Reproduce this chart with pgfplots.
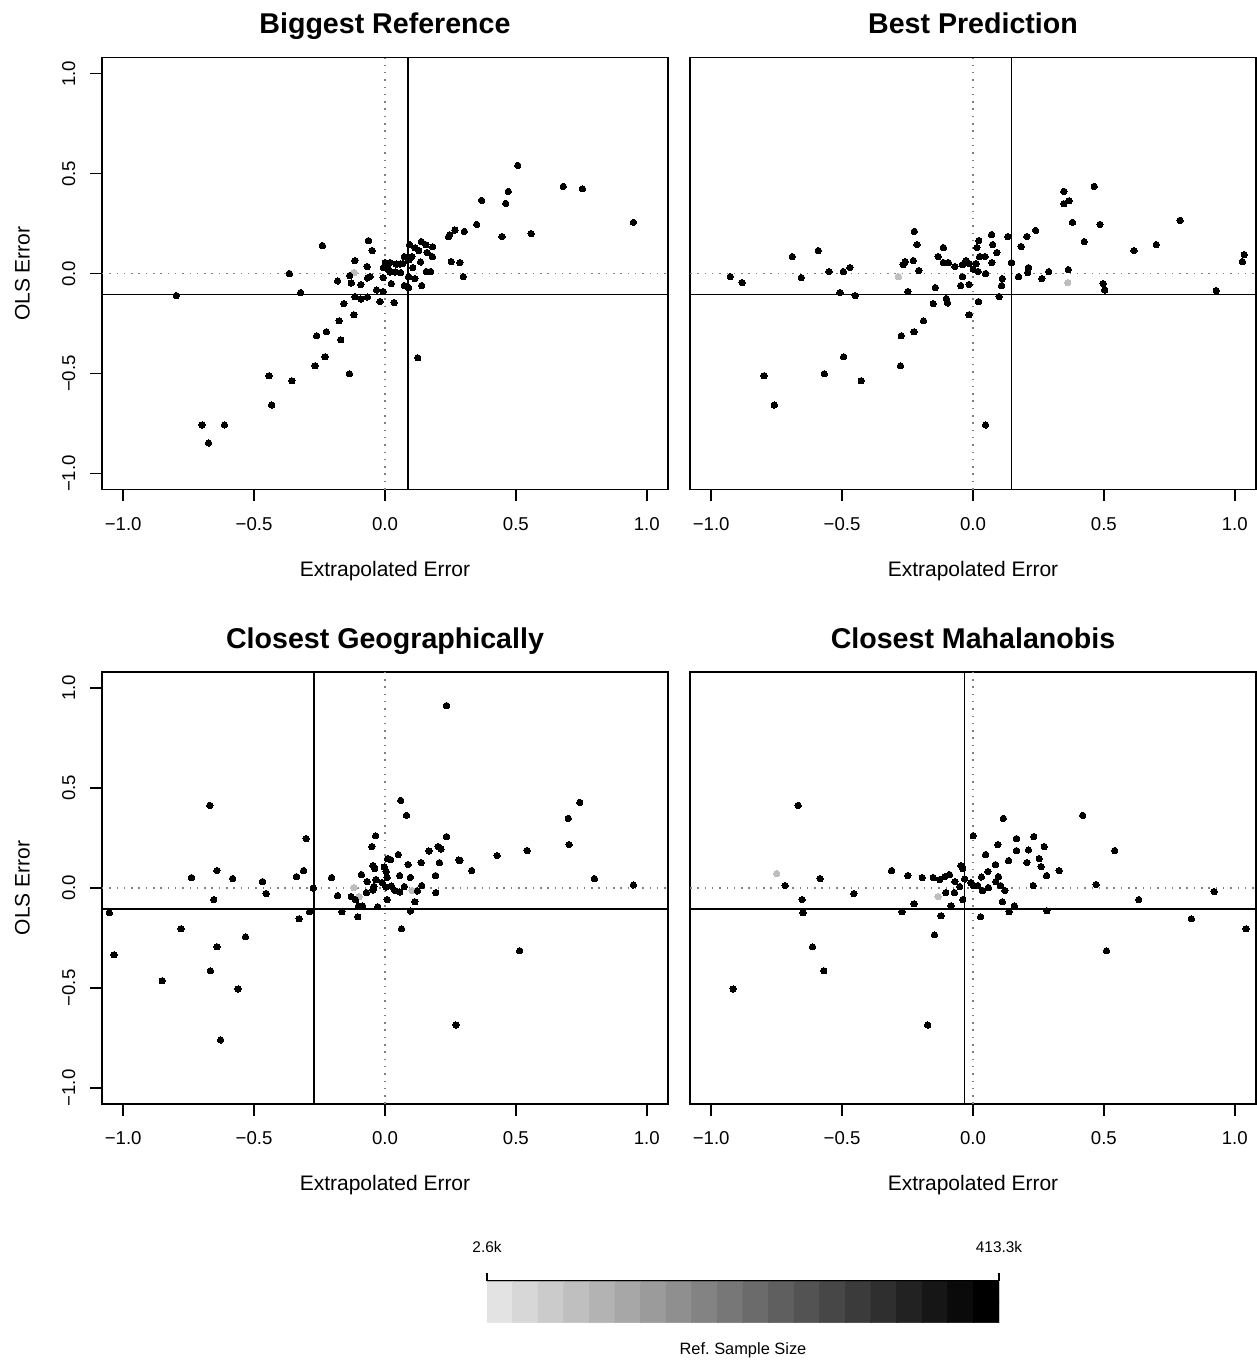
\documentclass[border=0pt]{standalone}
\usepackage{fontspec}
\setmainfont{Liberation Sans}
\usepackage{pgfplots}
\usepackage{pgfplotstable}
\pgfplotsset{compat=1.18}
\definecolor{lightpt}{HTML}{BEBEBE}
\definecolor{refline}{HTML}{808080}

% panel 1: Biggest Reference
\pgfplotstableread{
x y
0.507 0.541
0.681 0.436
0.754 0.424
0.471 0.411
0.369 0.366
0.461 0.351
0.949 0.256
0.350 0.246
0.303 0.211
0.267 0.217
0.247 0.194
0.243 0.184
0.447 0.185
0.558 0.200
-0.239 0.140
-0.063 0.165
-0.049 0.115
0.094 0.145
0.139 0.160
0.115 0.129
0.129 0.115
0.156 0.144
0.182 0.134
0.161 0.105
0.181 0.085
0.074 0.085
0.103 0.085
0.092 0.069
0.136 0.058
0.253 0.060
0.286 0.055
0.106 0.030
0.158 0.010
0.174 0.010
0.299 -0.015
0.114 -0.025
0.140 -0.060
0.090 -0.015
0.074 -0.060
0.090 -0.070
0.024 -0.050
-0.007 -0.020
0.001 0.055
0.019 0.055
0.043 0.047
0.058 0.048
0.068 0.050
-0.006 0.030
0.013 0.022
0.019 0.008
0.039 0.008
0.060 0.005
-0.115 0.065
-0.068 0.035
-0.135 -0.010
-0.067 -0.022
-0.057 -0.015
-0.129 -0.047
-0.092 -0.055
-0.181 -0.037
-0.365 0.000
-0.322 -0.095
-0.797 -0.110
-0.032 -0.082
-0.007 -0.090
-0.115 -0.115
-0.092 -0.127
-0.067 -0.117
-0.019 -0.140
0.035 -0.145
-0.157 -0.150
-0.119 -0.206
-0.175 -0.236
-0.224 -0.291
-0.261 -0.311
-0.169 -0.331
0.125 -0.421
-0.229 -0.416
-0.267 -0.461
-0.136 -0.501
-0.443 -0.511
-0.356 -0.536
-0.433 -0.657
-0.699 -0.757
-0.613 -0.757
-0.674 -0.847
}\bigblack
\pgfplotstableread{
x y
-0.118 0.005
}\biggray

% panel 2: Best Prediction
\pgfplotstableread{
x y
0.463 0.436
0.347 0.411
0.367 0.364
0.347 0.349
0.380 0.256
0.485 0.246
0.791 0.266
0.425 0.160
0.615 0.115
0.700 0.145
1.036 0.095
1.029 0.060
0.239 0.216
0.206 0.185
0.133 0.185
0.184 0.135
0.147 0.055
0.212 0.030
0.209 0.005
0.289 0.010
0.263 -0.025
0.174 -0.015
0.364 0.020
0.497 -0.050
0.503 -0.082
0.929 -0.085
0.112 -0.025
0.109 -0.060
0.100 -0.115
0.071 0.195
0.075 0.145
0.091 0.105
0.022 0.165
0.015 0.130
0.025 0.085
0.046 0.085
0.072 0.055
0.012 0.050
0.001 0.022
0.019 0.010
0.048 0.000
-0.015 0.050
-0.026 0.065
-0.040 0.045
-0.069 0.035
-0.094 0.055
-0.113 0.055
-0.113 0.130
-0.133 0.085
-0.040 -0.015
-0.047 -0.060
-0.015 -0.055
-0.144 -0.070
-0.224 0.211
-0.214 0.145
-0.228 0.065
-0.207 0.015
-0.259 0.060
-0.267 0.045
-0.249 -0.090
-0.470 0.030
-0.495 0.010
-0.550 0.010
-0.591 0.115
-0.690 0.085
-0.656 -0.020
-0.927 -0.015
-0.882 -0.045
-0.508 -0.095
-0.450 -0.110
-0.102 -0.125
-0.097 -0.147
-0.152 -0.150
0.021 -0.140
-0.015 -0.206
-0.189 -0.236
-0.225 -0.291
-0.274 -0.311
-0.494 -0.416
-0.277 -0.461
-0.568 -0.501
-0.427 -0.536
-0.798 -0.511
-0.759 -0.657
0.048 -0.757
}\bestblack
\pgfplotstableread{
x y
-0.285 -0.015
0.362 -0.045
}\bestgray

% panel 3: Closest Geographically
\pgfplotstableread{
x y
0.235 0.912
0.060 0.438
0.082 0.363
0.744 0.428
0.700 0.348
0.703 0.217
0.543 0.187
0.428 0.162
0.800 0.047
0.949 0.015
0.235 0.257
0.203 0.207
0.214 0.194
0.168 0.185
0.282 0.140
0.286 0.137
0.331 0.087
0.208 0.127
0.138 0.127
0.088 0.117
0.193 0.062
0.097 0.053
0.056 0.062
0.140 0.012
0.124 -0.015
0.194 -0.023
0.074 0.007
0.114 -0.069
0.097 -0.115
0.063 -0.204
0.271 -0.685
0.514 -0.314
-0.036 0.261
-0.050 0.207
0.051 0.167
0.010 0.147
0.021 0.142
-0.046 0.112
-0.039 0.097
-0.003 0.105
0.004 0.082
0.008 0.053
-0.035 0.042
-0.090 0.067
-0.068 0.032
-0.042 0.008
-0.011 0.027
0.003 0.005
0.024 0.010
0.038 -0.013
0.056 -0.020
-0.046 -0.010
-0.071 -0.023
0.008 -0.058
-0.028 -0.094
-0.086 -0.089
-0.101 -0.089
-0.113 -0.058
-0.129 -0.043
-0.181 -0.038
-0.204 0.052
-0.165 -0.119
-0.104 -0.144
-0.274 0.000
-0.301 0.247
-0.311 0.087
-0.338 0.057
-0.468 0.032
-0.454 -0.028
-0.582 0.047
-0.642 0.087
-0.739 0.052
-0.654 -0.058
-0.669 0.413
-0.288 -0.119
-0.328 -0.154
-1.053 -0.124
-1.035 -0.334
-0.779 -0.204
-0.642 -0.294
-0.533 -0.244
-0.667 -0.414
-0.851 -0.464
-0.561 -0.505
-0.628 -0.760
}\geoblack
\pgfplotstableread{
x y
-0.119 0.002
-0.099 -0.043
0.103 -0.012
}\geogray

% panel 4: Closest Mahalanobis
\pgfplotstableread{
x y
-0.668 0.413
0.116 0.348
0.419 0.363
0.001 0.261
0.166 0.247
0.232 0.257
0.095 0.217
0.272 0.207
0.166 0.187
0.212 0.190
0.541 0.187
0.048 0.167
0.136 0.137
0.206 0.127
0.253 0.147
0.260 0.107
0.086 0.117
-0.046 0.112
-0.039 0.097
0.057 0.082
0.032 0.055
0.097 0.057
0.087 0.032
0.281 0.062
0.329 0.087
0.230 0.012
0.470 0.017
0.921 -0.018
0.633 -0.058
0.834 -0.154
1.043 -0.204
0.510 -0.314
-0.311 0.087
-0.249 0.062
-0.194 0.052
-0.152 0.052
-0.127 0.042
-0.107 0.057
-0.090 0.067
-0.069 0.032
-0.051 0.007
-0.032 0.045
-0.008 0.027
0.001 0.012
0.018 0.012
0.036 -0.013
0.059 0.002
0.105 0.012
0.122 -0.013
0.112 -0.069
0.158 -0.089
0.138 -0.119
0.282 -0.114
0.029 -0.144
-0.104 -0.023
-0.071 -0.023
-0.039 -0.058
-0.084 -0.089
-0.122 -0.139
-0.147 -0.234
-0.225 -0.079
-0.271 -0.119
-0.173 -0.685
-0.455 -0.028
-0.584 0.047
-0.718 0.012
-0.653 -0.058
-0.649 -0.124
-0.613 -0.294
-0.570 -0.414
-0.916 -0.505
}\mahblack
\pgfplotstableread{
x y
-0.750 0.072
-0.133 -0.043
}\mahgray

% colour key: 20 grey steps
\pgfplotstableread{
x y c
0.5 0.244 0
1.5 0.244 1
2.5 0.244 2
3.5 0.244 3
4.5 0.244 4
5.5 0.244 5
6.5 0.244 6
7.5 0.244 7
8.5 0.244 8
9.5 0.244 9
10.5 0.244 10
11.5 0.244 11
12.5 0.244 12
13.5 0.244 13
14.5 0.244 14
15.5 0.244 15
16.5 0.244 16
17.5 0.244 17
18.5 0.244 18
19.5 0.244 19
0.5 0.732 0
1.5 0.732 1
2.5 0.732 2
3.5 0.732 3
4.5 0.732 4
5.5 0.732 5
6.5 0.732 6
7.5 0.732 7
8.5 0.732 8
9.5 0.732 9
10.5 0.732 10
11.5 0.732 11
12.5 0.732 12
13.5 0.732 13
14.5 0.732 14
15.5 0.732 15
16.5 0.732 16
17.5 0.732 17
18.5 0.732 18
19.5 0.732 19
}\keytable

\pgfplotsset{
  panel/.style={
    anchor=south west, scale only axis, width=283pt, height=216pt,
    xmin=-1.081, xmax=1.081, ymin=-1.08, ymax=1.08,
    axis line style={line width=0.8pt},
    tick align=outside, major tick length=5.8pt,
    tick style={black, line width=0.8pt},
    xtick pos=left, ytick pos=left,
    xtick={-1,-0.5,0,0.5,1},
    xticklabels={−1.0,−0.5,0.0,0.5,1.0},
    tick label style={font=\fontsize{9.3}{11}\selectfont},
    xticklabel style={anchor=north, inner sep=0pt},
    xticklabel shift=8pt,
    xlabel={Extrapolated Error},
    xlabel style={at={(axis description cs:0.5,-0.188)}, anchor=center,
      font=\fontsize{10.5}{12}\selectfont},
    title style={at={(axis description cs:0.5,1.027)}, anchor=base,
      font=\bfseries\fontsize{14.3}{17}\selectfont},
    clip=true,
  },
  leftpanel/.style={
    ytick={-1,-0.5,0,0.5,1},
    yticklabels={−1.0,−0.5,0.0,0.5,1.0},
    yticklabel style={rotate=90, anchor=south, inner sep=0pt},
    yticklabel shift=7.3pt,
    ylabel={OLS Error},
    ylabel style={at={(axis description cs:-0.1408,0.5)}, anchor=center,
      font=\fontsize{10.5}{12}\selectfont},
  },
  rightpanel/.style={ytick=\empty},
  zeroline/.style={refline, line width=0.75pt, dash pattern=on 0.75pt off 2.9pt},
  cutline/.style={black, line width=0.8pt},
  blackpts/.style={only marks, color=black, mark=*, mark size=1.6pt,
    mark options={draw=black, fill=black, line width=0pt}},
  graypts/.style={only marks, color=lightpt, mark=*, mark size=1.6pt,
    mark options={draw=lightpt, fill=lightpt, line width=0pt}},
}

\begin{document}
\begin{tikzpicture}
\useasboundingbox (0,0) rectangle (628.5pt,681pt);

\begin{axis}[panel, leftpanel, at={(51pt,436.2pt)}, title={Biggest Reference}]
\addplot[zeroline] coordinates {(0,-1.08) (0,1.08)};
\addplot[zeroline] coordinates {(-1.081,0) (1.081,0)};
\addplot[cutline] coordinates {(0.088,-1.08) (0.088,1.08)};
\addplot[cutline] coordinates {(-1.081,-0.105) (1.081,-0.105)};
\addplot[graypts] table {\biggray};
\addplot[blackpts] table {\bigblack};
\end{axis}

\begin{axis}[panel, rightpanel, at={(345pt,436.2pt)}, title={Best Prediction}]
\addplot[zeroline] coordinates {(0,-1.08) (0,1.08)};
\addplot[zeroline] coordinates {(-1.081,0) (1.081,0)};
\addplot[cutline] coordinates {(0.147,-1.08) (0.147,1.08)};
\addplot[cutline] coordinates {(-1.081,-0.105) (1.081,-0.105)};
\addplot[graypts] table {\bestgray};
\addplot[blackpts] table {\bestblack};
\end{axis}

\begin{axis}[panel, leftpanel, at={(51pt,129pt)}, title={Closest Geographically}]
\addplot[zeroline] coordinates {(0,-1.08) (0,1.08)};
\addplot[zeroline] coordinates {(-1.081,0) (1.081,0)};
\addplot[cutline] coordinates {(-0.271,-1.08) (-0.271,1.08)};
\addplot[cutline] coordinates {(-1.081,-0.105) (1.081,-0.105)};
\addplot[graypts] table {\geogray};
\addplot[blackpts] table {\geoblack};
\end{axis}

\begin{axis}[panel, rightpanel, at={(345pt,129pt)}, title={Closest Mahalanobis}]
\addplot[zeroline] coordinates {(0,-1.08) (0,1.08)};
\addplot[zeroline] coordinates {(-1.081,0) (1.081,0)};
\addplot[cutline] coordinates {(-0.032,-1.08) (-0.032,1.08)};
\addplot[cutline] coordinates {(-1.081,-0.105) (1.081,-0.105)};
\addplot[graypts] table {\mahgray};
\addplot[blackpts] table {\mahblack};
\end{axis}

% colour key
\begin{axis}[at={(243.5pt,19.65pt)}, anchor=south west, scale only axis,
  width=256pt, height=21pt, xmin=0, xmax=20, ymin=0, ymax=1,
  axis x line=top, axis y line=none,
  axis line style={-, line width=0.8pt},
  xtick={0,20}, xticklabels={2.6k,413.3k},
  tick align=outside, major tick length=4pt,
  tick style={black, line width=0.8pt},
  xticklabel style={anchor=south, inner sep=0pt, font=\fontsize{7.7}{9}\selectfont},
  xticklabel shift=10pt,
  xlabel={Ref.\ Sample Size},
  xlabel style={at={(axis description cs:0.5,-0.66)}, anchor=center,
    font=\fontsize{8.2}{10}\selectfont},
  colormap={keygrey}{gray(0cm)=(0.89); gray(1cm)=(0)},
  point meta min=0, point meta max=19]
\addplot[matrix plot*, mesh/cols=20, point meta=explicit] table[meta=c] {\keytable};
\end{axis}
\end{tikzpicture}
\end{document}
